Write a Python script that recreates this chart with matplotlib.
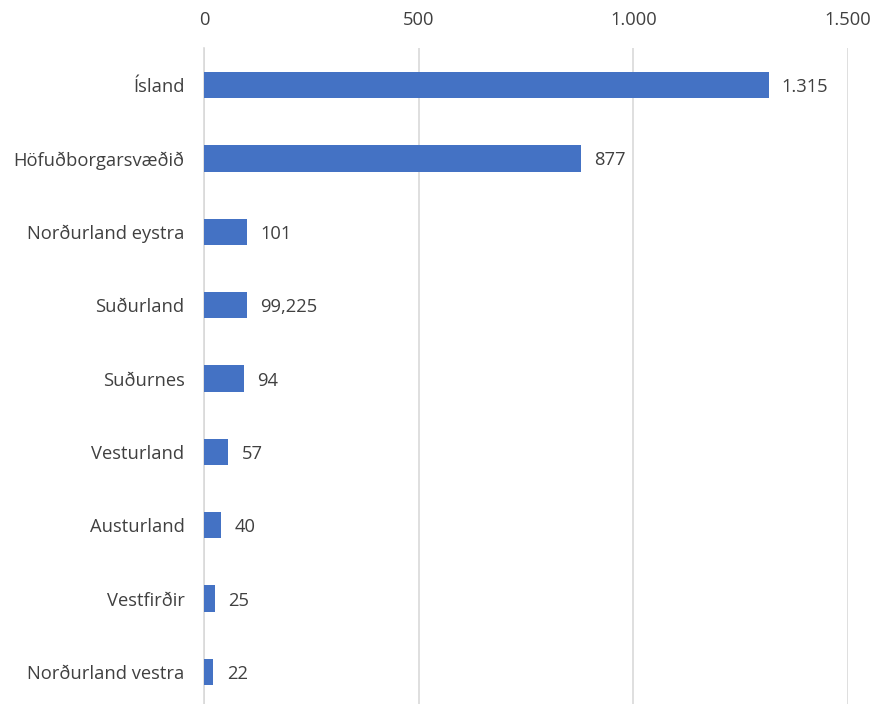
import matplotlib.pyplot as plt

# Data
regions = ["Ísland", "Höfuðborgarsvæðið", "Norðurland eystra", "Suðurland",
           "Suðurnes", "Vesturland", "Austurland", "Vestfirðir", "Norðurland vestra"]
values = [1315, 877, 101, 99.225, 94, 57, 40, 25, 22]
value_labels = ["1.315", "877", "101", "99,225", "94", "57", "40", "25", "22"]
tick_values = [0, 500, 1000, 1500]
tick_labels = ["0", "500", "1.000", "1.500"]

plt.rcParams['font.family'] = ['Open Sans', 'DejaVu Sans']
text_color = "#404040"
fs = 13.2

fig = plt.figure(figsize=(8.75, 7.04), dpi=100)
ax = fig.add_axes([204 / 875, -4.7 / 704, 644 / 875, 660.4 / 704])

ypos = list(range(len(regions)))
ax.barh(ypos, values, height=0.36, color="#4472C4", zorder=3)

for y, v, lab in zip(ypos, values, value_labels):
    ax.annotate(lab, (v, y), xytext=(9.5, -1.5), textcoords="offset points",
                va="center", ha="left", fontsize=fs, color=text_color)

ax.set_xlim(0, 1500)
ax.set_ylim(len(regions) - 0.5, -0.5)
ax.set_yticks(ypos)
ax.set_yticklabels(regions, fontsize=fs, color=text_color)
ax.set_xticks(tick_values)
ax.set_xticklabels(tick_labels, fontsize=fs, color=text_color)
ax.xaxis.tick_top()
ax.tick_params(axis="both", length=0)
ax.tick_params(axis="x", pad=14)
ax.tick_params(axis="y", pad=14)
for lbl in ax.get_yticklabels():
    lbl.set_y(lbl.get_position()[1])
ax.grid(axis="x", color="#d9d9d9", linewidth=1.2, zorder=0)
for side in ["top", "right", "bottom"]:
    ax.spines[side].set_visible(False)
ax.spines["left"].set_color("#d9d9d9")
ax.spines["left"].set_linewidth(1.2)

fig.savefig("out.png", dpi=100)
